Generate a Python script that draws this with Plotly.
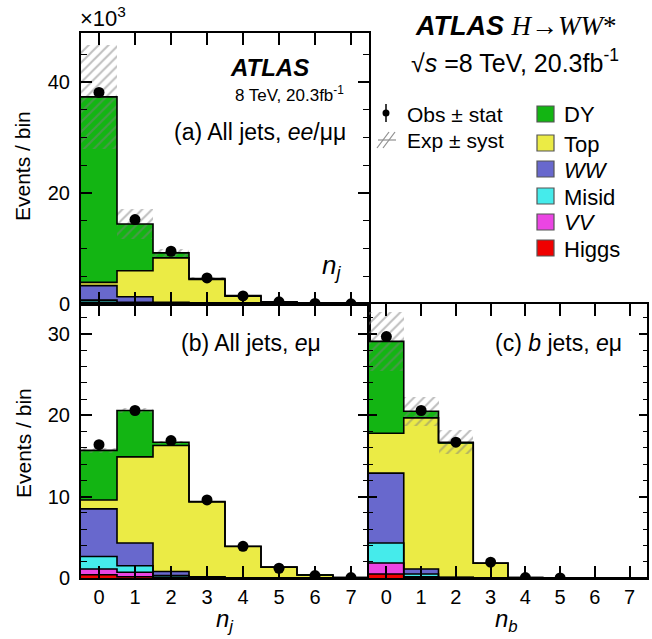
import plotly.graph_objects as go

W, H = 652, 639

# ---------------- data ----------------
bins = [0, 1, 2, 3, 4, 5, 6, 7]
tick_labels = ["0", "1", "2", "3", "4", "5", "6", "7"]
comp_names = ["Higgs", "VV", "Misid", "WW", "Top", "DY"]
comp_colors = ["#f00000", "#eb45e3", "#45ebeb", "#6868cd", "#ebeb45", "#13b513"]

# (a) All jets, ee/mumu  (x10^3)
higgs_a = [0.05, 0.02, 0.01, 0.0, 0.0, 0.0, 0.0, 0.0]
vv_a = [0.25, 0.13, 0.04, 0.02, 0.0, 0.0, 0.0, 0.0]
misid_a = [0.4, 0.15, 0.05, 0.02, 0.01, 0.0, 0.0, 0.0]
ww_a = [2.6, 1.0, 0.2, 0.06, 0.02, 0.01, 0.0, 0.0]
top_a = [0.6, 4.7, 8.0, 4.3, 1.37, 0.34, 0.05, 0.01]
dy_a = [33.4, 8.4, 0.9, 0.2, 0.1, 0.05, 0.01, 0.01]
syst_a = [9.3, 2.7, 0.75, 0.3, 0.1, 0.03, 0.01, 0.005]
obs_a = [38.1, 15.2, 9.5, 4.7, 1.45, 0.4, 0.1, 0.03]
stat_a = [0.2, 0.12, 0.1, 0.07, 0.04, 0.02, 0.01, 0.005]

# (b) All jets, e mu
higgs_b = [0.4, 0.15, 0.05, 0.01, 0.0, 0.0, 0.0, 0.0]
vv_b = [0.7, 0.55, 0.05, 0.02, 0.0, 0.0, 0.0, 0.0]
misid_b = [1.55, 0.8, 0.2, 0.05, 0.0, 0.0, 0.0, 0.0]
ww_b = [5.85, 2.8, 0.5, 0.07, 0.03, 0.01, 0.0, 0.0]
top_b = [1.1, 10.6, 15.5, 9.2, 3.85, 1.33, 0.36, 0.05]
dy_b = [6.1, 5.7, 0.4, 0.05, 0.02, 0.01, 0.01, 0.0]
syst_b = [0.3, 0.25, 0.2, 0.1, 0.05, 0.02, 0.01, 0.005]
obs_b = [16.4, 20.6, 16.9, 9.6, 3.9, 1.2, 0.3, 0.05]
stat_b = [0.13, 0.14, 0.13, 0.1, 0.06, 0.03, 0.02, 0.01]

# (c) b jets, e mu
higgs_c = [0.5, 0.05, 0.0, 0.0, 0.0, 0.0, 0.0, 0.0]
vv_c = [1.35, 0.1, 0.02, 0.0, 0.0, 0.0, 0.0, 0.0]
misid_c = [2.45, 0.35, 0.03, 0.0, 0.0, 0.0, 0.0, 0.0]
ww_c = [8.6, 0.6, 0.05, 0.01, 0.0, 0.0, 0.0, 0.0]
top_c = [4.9, 18.6, 16.5, 1.8, 0.05, 0.005, 0.0, 0.0]
dy_c = [11.3, 0.8, 0.1, 0.02, 0.0, 0.0, 0.0, 0.0]
syst_c = [3.6, 1.75, 1.5, 0.1, 0.01, 0.0, 0.0, 0.0]
obs_c = [29.7, 20.6, 16.7, 1.95, 0.05, 0.01, None, None]
stat_c = [0.17, 0.14, 0.13, 0.04, 0.01, 0.005, None, None]

legend_names = ["DY", "Top", "<i>WW</i>", "Misid", "<i>VV</i>", "Higgs"]
legend_colors = ["#13b513", "#ebeb45", "#6868cd", "#45ebeb", "#eb45e3", "#f00000"]

FONT = "Liberation Sans, Arial, sans-serif"


def px(x):
    return x / W


def py(y):
    return 1 - y / H


fig = go.Figure()


def add_panel(comps, syst, obs, stat, xa, ya):
    base = [0.0] * len(bins)
    tops = []
    for vals, col in zip(comps, comp_colors):
        fig.add_trace(go.Bar(x=bins, y=vals, base=list(base), width=1,
                             marker=dict(color=col, line=dict(width=0)),
                             xaxis=xa, yaxis=ya, showlegend=False, hoverinfo="skip"))
        base = [b + v for b, v in zip(base, vals)]
        tops.append(list(base))
    edges = [b - 0.5 for b in bins] + [bins[-1] + 0.5]
    for t in tops:
        fig.add_trace(go.Scatter(x=edges, y=t + [t[-1]], mode="lines",
                                 line=dict(shape="hv", color="black", width=1.6),
                                 xaxis=xa, yaxis=ya, showlegend=False, hoverinfo="skip"))
    total = tops[-1]
    fig.add_trace(go.Bar(x=bins, y=[2 * s for s in syst],
                         base=[t - s for t, s in zip(total, syst)], width=1,
                         marker=dict(color="rgba(0,0,0,0)", line=dict(width=0),
                                     pattern=dict(shape="/", fgcolor="#7e7e7e",
                                                  size=7, solidity=0.28)),
                         xaxis=xa, yaxis=ya, showlegend=False, hoverinfo="skip"))
    fig.add_trace(go.Scatter(x=bins, y=obs, mode="markers",
                             marker=dict(color="black", size=11),
                             error_y=dict(type="data", array=stat, color="black",
                                          thickness=1.5, width=0),
                             xaxis=xa, yaxis=ya, showlegend=False, hoverinfo="skip"))


add_panel([higgs_a, vv_a, misid_a, ww_a, top_a, dy_a], syst_a, obs_a, stat_a, "x", "y")
add_panel([higgs_b, vv_b, misid_b, ww_b, top_b, dy_b], syst_b, obs_b, stat_b, "x2", "y2")
add_panel([higgs_c, vv_c, misid_c, ww_c, top_c, dy_c], syst_c, obs_c, stat_c, "x3", "y3")

xL, xM, xR = px(81), px(369), px(647)
yT, yMid, yB = py(33), py(304), py(578)

tickfont = dict(family=FONT, size=20, color="black")


def xaxis(domain, anchor, labels):
    return dict(domain=domain, anchor=anchor, range=[-0.5, 7.5],
                tickmode="array", tickvals=bins, ticktext=tick_labels,
                showticklabels=labels, ticks="inside", ticklen=12, tickwidth=2,
                tickcolor="black", showline=True, linecolor="black", linewidth=2,
                mirror="allticks", showgrid=False, zeroline=False, tickfont=tickfont,
                automargin=False, fixedrange=True)


def yaxis(domain, anchor, rng, dtick, mdtick, labels, tl=11, mtl=6):
    return dict(domain=domain, anchor=anchor, range=rng, dtick=dtick, tick0=0,
                showticklabels=labels, ticks="inside", ticklen=tl, tickwidth=1.5,
                tickcolor="black", showline=True, linecolor="black", linewidth=2,
                mirror="allticks", showgrid=False, zeroline=False, tickfont=tickfont,
                ticklabelstandoff=5, automargin=False,
                minor=dict(ticks="inside", dtick=mdtick, tick0=0, ticklen=mtl,
                           tickwidth=1.2, tickcolor="black", showgrid=False),
                fixedrange=True)


fig.update_layout(
    width=W, height=H, autosize=False, margin=dict(l=0, r=0, t=0, b=0, pad=0, autoexpand=False),
    paper_bgcolor="white", plot_bgcolor="white", barmode="overlay", bargap=0,
    font=dict(family=FONT, color="black"),
    xaxis=xaxis([xL, xM], "y", False),
    yaxis=yaxis([yMid, yT], "x", [0, 48.8], 20, 5, True),
    xaxis2=xaxis([xL, xM], "y2", True),
    yaxis2=yaxis([yB, yMid], "x2", [0, 33.7], 10, 2, True),
    xaxis3=xaxis([xM, xR], "y3", True),
    yaxis3=yaxis([yB, yMid], "x3", [0, 33.7], 10, 2, False, tl=8, mtl=4),
)

ann = []


def text(x, y, s, size=17, xanchor="left", yanchor="middle", angle=0, family=FONT):
    ann.append(dict(x=px(x), y=py(y), xref="paper", yref="paper", text=s,
                    showarrow=False, xanchor=xanchor, yanchor=yanchor,
                    textangle=angle, font=dict(family=family, size=size, color="black")))


text(78, 17, "×10<sup>3</sup>", size=22)
text(23, 166, "Events / bin", size=21, xanchor="center", angle=-90)
text(23, 443, "Events / bin", size=21, xanchor="center", angle=-90)
text(225, 620, "<i>n</i><sub><i>j</i></sub>", size=24, xanchor="center")
text(507, 620, "<i>n</i><sub><i>b</i></sub>", size=24, xanchor="center")

text(311, 68, "<b><i>ATLAS</i></b>", size=24, xanchor="right")
text(346, 94, "8 TeV, 20.3fb<sup>-1</sup>", size=17, xanchor="right")
text(348, 132, "(a) All jets, <i>ee</i>/μμ", size=23, xanchor="right")
text(343, 266, "<i>n</i><sub><i>j</i></sub>", size=26, xanchor="right")
text(323, 343, "(b) All jets, <i>e</i>μ", size=23, xanchor="right")
text(624, 343, "(c) <i>b</i> jets, <i>e</i>μ", size=23, xanchor="right")

text(516, 26, "<b><i>ATLAS</i></b> <span style='font-family:Liberation Serif'><i>H</i>→<i>WW</i>*</span>",
     size=27, xanchor="center")
text(515, 61, "√<i>s</i> =8 TeV, 20.3fb<sup>-1</sup>", size=25, xanchor="center")

text(405, 114, "Obs ± stat", size=21)
text(405, 140, "Exp ± syst", size=21)

shapes = []
sq_y = [114, 143, 169, 196, 222, 248]
for name, col, yy in zip(legend_names, legend_colors, sq_y):
    shapes.append(dict(type="rect", xref="paper", yref="paper",
                       x0=px(537), x1=px(554), y0=py(yy + 8), y1=py(yy - 8),
                       fillcolor=col, line=dict(color="#555555", width=1.2)))
    text(562, yy + 1, name, size=22)

# obs marker in legend
shapes.append(dict(type="line", xref="paper", yref="paper", x0=px(386), x1=px(386),
                   y0=py(104), y1=py(122), line=dict(color="black", width=1.5)))
shapes.append(dict(type="circle", xref="paper", yref="paper", x0=px(382.5), x1=px(389.5),
                   y0=py(116.5), y1=py(109.5), fillcolor="black", line=dict(color="black", width=0)))
# hatch symbol in legend
for dx in (0, 6):
    shapes.append(dict(type="line", xref="paper", yref="paper",
                       x0=px(377 + dx), x1=px(389 + dx), y0=py(148), y1=py(132),
                       line=dict(color="#8f8f8f", width=1.2)))
shapes.append(dict(type="line", xref="paper", yref="paper", x0=px(378), x1=px(396),
                   y0=py(140), y1=py(140), line=dict(color="#8f8f8f", width=1.2)))

fig.update_layout(annotations=ann, shapes=shapes)
fig.write_html("out.html", config={"displayModeBar": False},
               post_script="}); document.body.style.margin='0px'; "
                           "document.body.style.overflow='hidden'; (function(){")
